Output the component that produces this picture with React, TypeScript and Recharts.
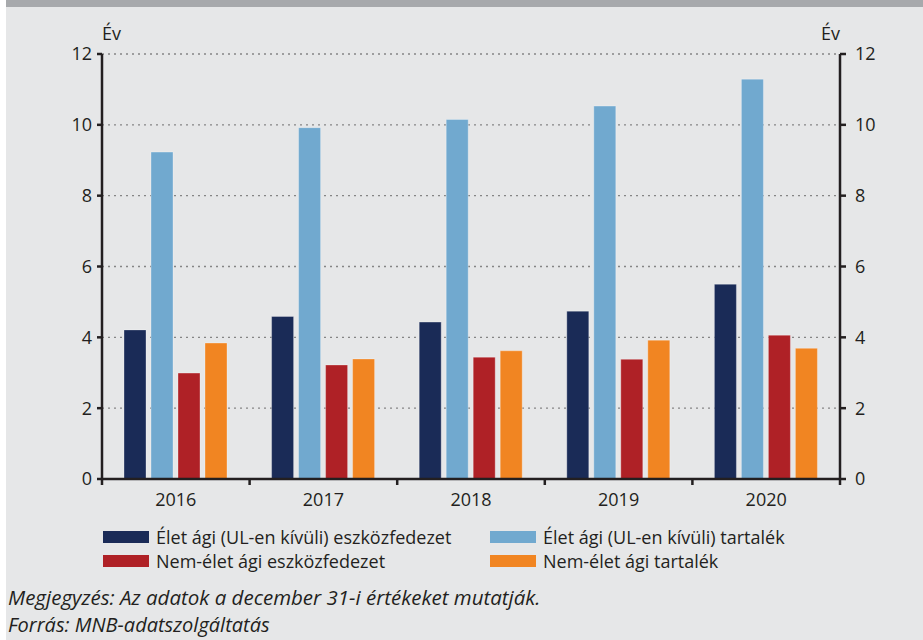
import React from 'react';
import { ComposedChart, Bar, Line, XAxis, YAxis, CartesianGrid } from 'recharts';

const years = ['2016', '2017', '2018', '2019', '2020'];
const eletEszkoz = [4.21, 4.59, 4.43, 4.74, 5.5];
const eletTartalek = [9.23, 9.92, 10.15, 10.53, 11.29];
const nemEletEszkoz = [2.99, 3.22, 3.44, 3.38, 4.06];
const nemEletTartalek = [3.84, 3.39, 3.62, 3.92, 3.69];
const yTicks = [0, 2, 4, 6, 8, 10, 12];

const series = [
  { key: 'eletEszkoz', name: 'Élet ági (UL-en kívüli) eszközfedezet', color: '#1a2b57' },
  { key: 'eletTartalek', name: 'Élet ági (UL-en kívüli) tartalék', color: '#71a9cf' },
  { key: 'nemEletEszkoz', name: 'Nem-élet ági eszközfedezet', color: '#af2126' },
  { key: 'nemEletTartalek', name: 'Nem-élet ági tartalék', color: '#f18522' },
];

const data = years.map((year, i) => ({
  year,
  eletEszkoz: eletEszkoz[i],
  eletTartalek: eletTartalek[i],
  nemEletEszkoz: nemEletEszkoz[i],
  nemEletTartalek: nemEletTartalek[i],
}));

const FONT = '"Open Sans", "DejaVu Sans", sans-serif';
const INK = '#231f20';

// category tick: label in the middle, short tick marks on the category borders
const YearTick = (props: any) => {
  const { x, y, payload, index, visibleTicksCount } = props;
  const half = payload.offset ?? 73.8;
  const last = index === (visibleTicksCount ?? years.length) - 1;
  return (
    <g>
      <line x1={x - half} x2={x - half} y1={y} y2={y + 6} stroke={INK} strokeWidth={2.5} />
      {last && <line x1={x + half} x2={x + half} y1={y} y2={y + 6} stroke={INK} strokeWidth={2.5} />}
      <text x={x} y={y + 27} textAnchor="middle" fill={INK} fontSize={18} fontFamily={FONT}>
        {payload.value}
      </text>
    </g>
  );
};

export default function App() {
  return (
    <div
      style={{
        position: 'absolute',
        left: 0,
        top: 0,
        width: 923,
        height: 640,
        background: '#e6e7e8',
        fontFamily: FONT,
        color: INK,
        overflow: 'hidden',
      }}
    >
      <div style={{ position: 'absolute', left: 0, top: 0, width: 6, height: 640, background: '#ffffff' }} />
      <div style={{ position: 'absolute', left: 6, top: 0, right: 0, height: 7, background: '#a7a9ac' }} />

      <div style={{ position: 'absolute', left: 102, top: 23, fontSize: 18, lineHeight: '20px' }}>Év</div>
      <div style={{ position: 'absolute', left: 821, top: 23, fontSize: 18, lineHeight: '20px' }}>Év</div>

      <div style={{ position: 'absolute', left: 0, top: 0 }}>
        <ComposedChart
          width={923}
          height={520}
          data={data}
          margin={{ top: 54, right: 23, bottom: 11, left: 42 }}
          barCategoryGap="15%"
          barGap={5}
        >
          <CartesianGrid
            yAxisId="left"
            vertical={false}
            stroke="#858585"
            strokeDasharray="2 4"
            strokeWidth={1.3}
          />
          <XAxis
            dataKey="year"
            height={30}
            tickSize={0}
            tickMargin={0}
            tick={<YearTick />}
            axisLine={{ stroke: INK, strokeWidth: 2.5 }}
            interval={0}
          />
          <YAxis
            yAxisId="left"
            orientation="left"
            width={60}
            domain={[0, 12]}
            ticks={yTicks}
            tickSize={5}
            tickMargin={5}
            axisLine={{ stroke: INK, strokeWidth: 2.5 }}
            tickLine={{ stroke: INK, strokeWidth: 2.5 }}
            tick={{ fill: INK, fontSize: 18, fontFamily: FONT }}
          />
          <YAxis
            yAxisId="right"
            orientation="right"
            width={60}
            domain={[0, 12]}
            ticks={yTicks}
            tickSize={6}
            tickMargin={9}
            axisLine={{ stroke: INK, strokeWidth: 2.5 }}
            tickLine={{ stroke: INK, strokeWidth: 2.5 }}
            tick={{ fill: INK, fontSize: 18, fontFamily: FONT }}
          />
          {series.map((s) => (
            <Bar
              key={s.key}
              yAxisId="left"
              dataKey={s.key}
              name={s.name}
              fill={s.color}
              stroke="rgba(255,255,255,0.3)"
              strokeWidth={1}
              barSize={22}
              isAnimationActive={false}
            />
          ))}
          {/* invisible helper so the right axis gets a scale */}
          <Line
            yAxisId="right"
            dataKey="eletTartalek"
            stroke="none"
            dot={false}
            activeDot={false}
            legendType="none"
            isAnimationActive={false}
          />
        </ComposedChart>
      </div>

      <div
        style={{
          position: 'absolute',
          left: 103,
          top: 525,
          display: 'grid',
          gridTemplateColumns: '387px 360px',
          rowGap: 1,
          fontSize: 18,
        }}
      >
        {series.map((s) => (
          <div key={s.key} style={{ display: 'flex', alignItems: 'center', height: 23 }}>
            <span style={{ display: 'inline-block', width: 46, height: 12, background: s.color, marginRight: 7 }} />
            <span>{s.name}</span>
          </div>
        ))}
      </div>

      <div style={{ position: 'absolute', left: 8, top: 587, fontSize: 20.5, lineHeight: '20px', fontStyle: 'italic' }}>
        Megjegyzés: Az adatok a december 31-i értékeket mutatják.
      </div>
      <div style={{ position: 'absolute', left: 8, top: 615, fontSize: 20, lineHeight: '20px', fontStyle: 'italic' }}>
        Forrás: MNB-adatszolgáltatás
      </div>
    </div>
  );
}
